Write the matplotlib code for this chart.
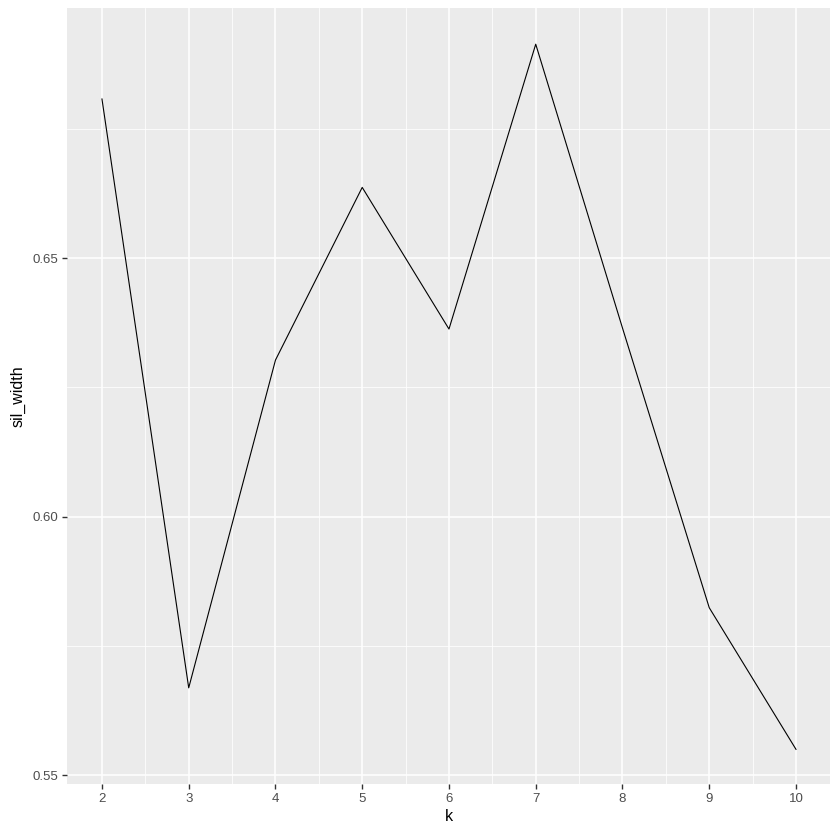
import matplotlib
matplotlib.use('Agg')
import matplotlib.pyplot as plt

# Silhouette width by number of clusters
k_values = [2, 3, 4, 5, 6, 7, 8, 9, 10]
sil_width = [0.6808, 0.5669, 0.6303, 0.6637, 0.6363, 0.6914, 0.6365, 0.5824, 0.5550]

y_ticks = [0.55, 0.60, 0.65]
y_tick_labels = ['0.55', '0.60', '0.65']

plt.rcParams['font.family'] = ['Liberation Sans', 'DejaVu Sans']

fig = plt.figure(figsize=(8.4, 8.4), dpi=100)
ax = fig.add_axes([67 / 840, 56 / 840, 763 / 840, 776 / 840])
ax.set_facecolor('#EBEBEB')

# minor grid
for x in [2.5 + i for i in range(8)]:
    ax.axvline(x, color='white', lw=0.55, zorder=0)
for y in [0.575, 0.625, 0.675]:
    ax.axhline(y, color='white', lw=0.55, zorder=0)
# major grid
for x in k_values:
    ax.axvline(x, color='white', lw=1.1, zorder=0)
for y in y_ticks:
    ax.axhline(y, color='white', lw=1.1, zorder=0)

ax.plot(k_values, sil_width, color='black', lw=0.8, zorder=2)

ax.set_xlim(1.597, 10.392)
ax.set_ylim(0.5483, 0.6984)
ax.set_xticks(k_values)
ax.set_xticklabels([str(k) for k in k_values])
ax.set_yticks(y_ticks)
ax.set_yticklabels(y_tick_labels)

for spine in ax.spines.values():
    spine.set_visible(False)
ax.tick_params(axis='both', colors='#333333', length=3.5, width=1.0,
               labelcolor='#4D4D4D', labelsize=9.5, pad=3)

ax.set_xlabel('k', fontsize=11.5, color='black', labelpad=3)
ax.set_ylabel('sil_width', fontsize=11.5, color='black', labelpad=5)

fig.savefig('out.png', dpi=100, facecolor='white')
plt.close(fig)
